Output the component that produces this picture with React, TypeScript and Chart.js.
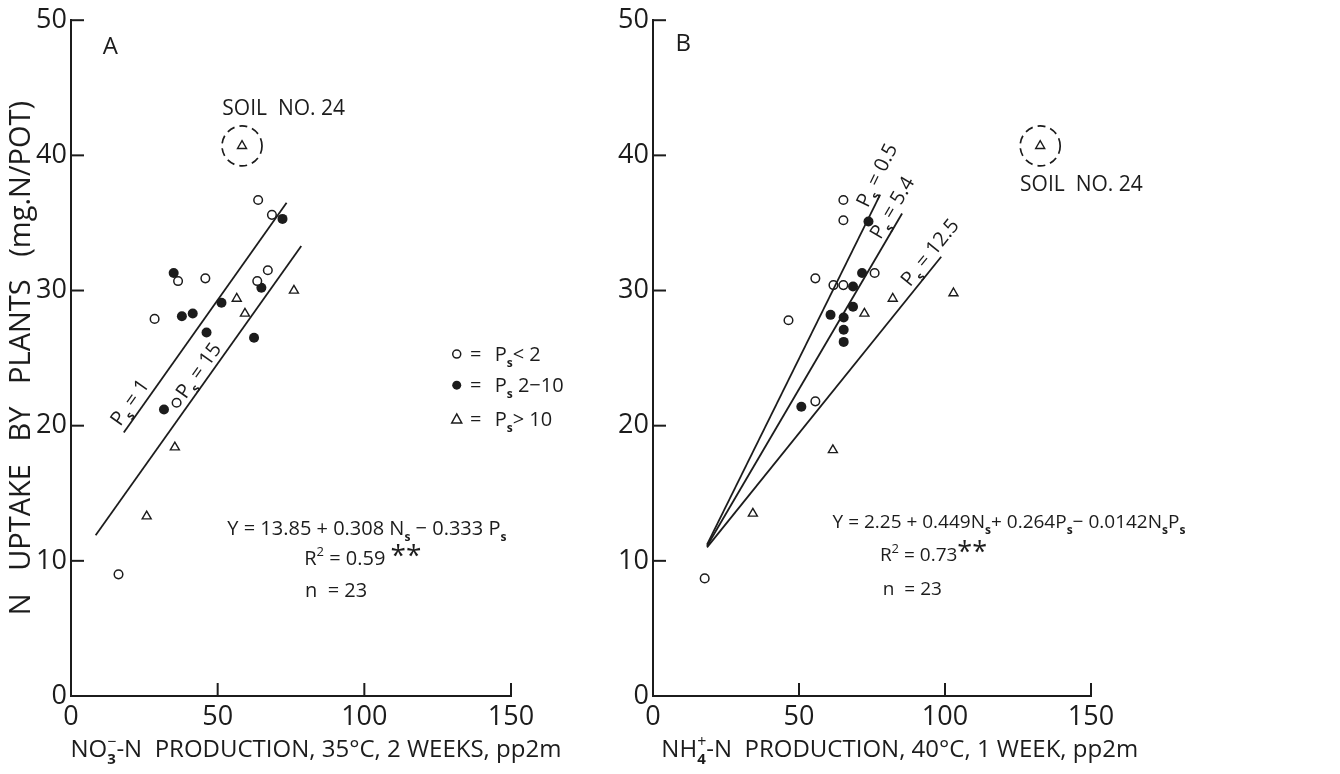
import { useEffect, useRef } from 'react';
import { Chart, registerables } from 'chart.js';

Chart.register(...registerables);

// ---------- shared axes ----------
const X_TICKS = [0, 50, 100, 150];
const Y_TICKS = [0, 10, 20, 30, 40, 50];

// ---------- Panel A : NO3-N production, 35 C, 2 weeks ----------
const A_OPEN_X = [63.8, 68.5, 36.5, 45.8, 63.5, 67.1, 28.5, 36.0, 16.2];
const A_OPEN_Y = [36.7, 35.6, 30.7, 30.9, 30.7, 31.5, 27.9, 21.7, 9.0];
const A_FILLED_X = [35.0, 72.1, 37.8, 41.5, 51.3, 64.9, 46.2, 62.4, 31.7];
const A_FILLED_Y = [31.3, 35.3, 28.1, 28.3, 29.1, 30.2, 26.9, 26.5, 21.2];
const A_TRI_X = [56.5, 59.3, 76.0, 35.4, 25.8];
const A_TRI_Y = [29.4, 28.3, 30.0, 18.4, 13.3];
const A_SOIL24_X = [58.3];
const A_SOIL24_Y = [40.7];
const A_LINE_P1_X = [18.0, 73.5];
const A_LINE_P1_Y = [19.5, 36.5];
const A_LINE_P15_X = [8.4, 78.5];
const A_LINE_P15_Y = [11.9, 33.3];

// ---------- Panel B : NH4-N production, 40 C, 1 week ----------
const B_OPEN_X = [65.2, 65.2, 55.6, 61.8, 65.2, 75.9, 46.4, 55.6, 17.7];
const B_OPEN_Y = [36.7, 35.2, 30.9, 30.4, 30.4, 31.3, 27.8, 21.8, 8.7];
const B_FILLED_X = [73.8, 71.6, 68.5, 68.5, 60.8, 65.3, 65.3, 65.3, 50.8];
const B_FILLED_Y = [35.1, 31.3, 30.3, 28.8, 28.2, 28.0, 27.1, 26.2, 21.4];
const B_TRI_X = [72.4, 82.1, 102.9, 61.6, 34.2];
const B_TRI_Y = [28.3, 29.4, 29.8, 18.2, 13.5];
const B_SOIL24_X = [132.6];
const B_SOIL24_Y = [40.7];
const B_LINE_P05_X = [18.5, 77.8];
const B_LINE_P05_Y = [11.2, 37.1];
const B_LINE_P54_X = [18.5, 85.3];
const B_LINE_P54_Y = [11.1, 35.7];
const B_LINE_P125_X = [18.5, 98.7];
const B_LINE_P125_Y = [11.0, 32.5];

// ---------- text ----------
const Y_TITLE = 'N   UPTAKE   BY   PLANTS   (mg.N/POT)';
const SOIL_LABEL = 'SOIL  NO. 24';

// ---------- style / layout ----------
const FAMILY = "'Open Sans', 'DejaVu Sans', sans-serif";
const INK = '#1c1c1c';
const W = 1340;
const H = 774;
const PLOT_TOP = 19;
const PLOT_BOTTOM = 696;
const A_CANVAS = { left: 0, width: 585, plotLeft: 71, plotRight: 511 };
const B_CANVAS = { left: 585, width: 755, plotLeft: 653, plotRight: 1091 };

type Seg = { t: string; sub?: boolean; sup?: boolean; stay?: boolean; scale?: number };

const pts = (xs: number[], ys: number[]) => xs.map((v, i) => ({ x: v, y: ys[i] }));

function segFont(s: Seg, size: number) {
  if (s.sub) return `bold ${Math.round(size * 0.62)}px ${FAMILY}`;
  if (s.sup) return `${Math.round(size * 0.66)}px ${FAMILY}`;
  return `400 ${Math.round(size * (s.scale || 1))}px ${FAMILY}`;
}

function drawRich(ctx: CanvasRenderingContext2D, segs: Seg[], x: number, base: number, size: number, align: 'left' | 'center' | 'right') {
  const widths = segs.map((s) => {
    ctx.font = segFont(s, size);
    return s.stay ? 0 : ctx.measureText(s.t).width;
  });
  const total = widths.reduce((a, b) => a + b, 0);
  let cx = align === 'left' ? x : align === 'center' ? x - total / 2 : x - total;
  ctx.textAlign = 'left';
  ctx.textBaseline = 'alphabetic';
  segs.forEach((s, i) => {
    ctx.font = segFont(s, size);
    const dy = s.sub ? size * 0.28 : s.sup ? -size * 0.42 : 0;
    ctx.fillText(s.t, cx, base + dy);
    cx += widths[i];
  });
}

const psSeg = (rest: string): Seg[] => [{ t: 'P' }, { t: 's', sub: true }, { t: rest }];

type PanelSpec = {
  key: 'A' | 'B';
  canvas: { left: number; width: number; plotLeft: number; plotRight: number };
  open: { x: number; y: number }[];
  filled: { x: number; y: number }[];
  tri: { x: number; y: number }[];
  soil: { x: number; y: number }[];
  lines: { xs: number[]; ys: number[]; label: Seg[]; at: number; off: number }[];
  letter: { x: number; y: number };
  soilText: { x: number; y: number; align: 'left' | 'center' };
  xTitle: Seg[];
  xTitleCenter: number;
  eqSize: number;
  equation: { segs: Seg[]; x: number; y: number }[];
  legend: boolean;
  yTitle: boolean;
};

const PANELS: PanelSpec[] = [
  {
    key: 'A',
    canvas: A_CANVAS,
    open: pts(A_OPEN_X, A_OPEN_Y),
    filled: pts(A_FILLED_X, A_FILLED_Y),
    tri: pts(A_TRI_X, A_TRI_Y),
    soil: pts(A_SOIL24_X, A_SOIL24_Y),
    lines: [
      { xs: A_LINE_P1_X, ys: A_LINE_P1_Y, label: psSeg(' = 1'), at: 23.5, off: 13 },
      { xs: A_LINE_P15_X, ys: A_LINE_P15_Y, label: psSeg(' = 15'), at: 46.7, off: 12 },
    ],
    letter: { x: 13.4, y: 47.5 },
    soilText: { x: 72.5, y: 43.0, align: 'center' },
    xTitle: [{ t: 'NO' }, { t: '3', sub: true, stay: true }, { t: '−', sup: true }, { t: '-N  PRODUCTION, 35°C, 2 WEEKS, pp2m' }],
    xTitleCenter: 83.5,
    eqSize: 20,
    equation: [
      { segs: [{ t: 'Y = 13.85 + 0.308 N' }, { t: 's', sub: true }, { t: ' − 0.333 P' }, { t: 's', sub: true }], x: 53.3, y: 11.9 },
      { segs: [{ t: 'R' }, { t: '2', sup: true }, { t: ' = 0.59 ' }, { t: '**', scale: 1.4 }], x: 79.5, y: 9.7 },
      { segs: [{ t: 'n  = 23' }], x: 79.8, y: 7.3 },
    ],
    legend: true,
    yTitle: true,
  },
  {
    key: 'B',
    canvas: B_CANVAS,
    open: pts(B_OPEN_X, B_OPEN_Y),
    filled: pts(B_FILLED_X, B_FILLED_Y),
    tri: pts(B_TRI_X, B_TRI_Y),
    soil: pts(B_SOIL24_X, B_SOIL24_Y),
    lines: [
      { xs: B_LINE_P05_X, ys: B_LINE_P05_Y, label: psSeg(' = 0.5'), at: 80.2, off: 12 },
      { xs: B_LINE_P54_X, ys: B_LINE_P54_Y, label: psSeg(' = 5.4'), at: 85.3, off: 12 },
      { xs: B_LINE_P125_X, ys: B_LINE_P125_Y, label: psSeg(' = 12.5'), at: 97.9, off: 12 },
    ],
    letter: { x: 10.4, y: 47.7 },
    soilText: { x: 125.7, y: 37.4, align: 'left' },
    xTitle: [{ t: 'NH' }, { t: '4', sub: true, stay: true }, { t: '+', sup: true }, { t: '-N  PRODUCTION, 40°C, 1 WEEK, pp2m' }],
    xTitleCenter: 84.5,
    eqSize: 19,
    equation: [
      {
        segs: [
          { t: 'Y = 2.25 + 0.449N' }, { t: 's', sub: true }, { t: '+ 0.264P' }, { t: 's', sub: true },
          { t: '− 0.0142N' }, { t: 's', sub: true }, { t: 'P' }, { t: 's', sub: true },
        ],
        x: 61.5, y: 12.4,
      },
      { segs: [{ t: 'R' }, { t: '2', sup: true }, { t: ' = 0.73' }, { t: '**', scale: 1.4 }], x: 77.7, y: 10.0 },
      { segs: [{ t: 'n  = 23' }], x: 78.7, y: 7.5 },
    ],
    legend: false,
    yTitle: false,
  },
];

const LEGEND_ROWS = [
  { y: 25.3, sym: 'open', text: psSeg('< 2') },
  { y: 23.0, sym: 'filled', text: psSeg(' 2−10') },
  { y: 20.5, sym: 'tri', text: psSeg('> 10') },
];
const LEGEND_SYMBOL_X = 131.5;

function annotations(p: PanelSpec) {
  return {
    id: 'annot' + p.key,
    afterDraw(chart: any) {
      const { ctx } = chart;
      const xs = chart.scales.x;
      const ys = chart.scales.y;
      const px = (v: number) => xs.getPixelForValue(v);
      const py = (v: number) => ys.getPixelForValue(v);
      ctx.save();
      ctx.fillStyle = INK;
      ctx.strokeStyle = INK;

      // inward tick marks
      ctx.lineWidth = 2;
      Y_TICKS.filter((v) => v > 0).forEach((v) => {
        ctx.beginPath();
        ctx.moveTo(xs.left, py(v));
        ctx.lineTo(xs.left + 13, py(v));
        ctx.stroke();
      });
      X_TICKS.filter((v) => v > 0).forEach((v) => {
        ctx.beginPath();
        ctx.moveTo(px(v), ys.bottom);
        ctx.lineTo(px(v), ys.bottom - 13);
        ctx.stroke();
      });

      // panel letter
      drawRich(ctx, [{ t: p.key }], px(p.letter.x), py(p.letter.y), 24, 'center');

      // dashed circle around soil no. 24
      const s = p.soil[0];
      ctx.lineWidth = 1.7;
      ctx.setLineDash([8, 5]);
      ctx.beginPath();
      ctx.arc(px(s.x), py(s.y), 20, 0, Math.PI * 2);
      ctx.stroke();
      ctx.setLineDash([]);
      drawRich(ctx, [{ t: SOIL_LABEL }], px(p.soilText.x), py(p.soilText.y), 21, p.soilText.align);

      // line labels, rotated along each regression line
      p.lines.forEach((ln) => {
        const x0 = px(ln.xs[0]);
        const y0 = py(ln.ys[0]);
        const x1 = px(ln.xs[1]);
        const y1 = py(ln.ys[1]);
        const ang = Math.atan2(y1 - y0, x1 - x0);
        const t = (ln.at - ln.xs[0]) / (ln.xs[1] - ln.xs[0]);
        const cx = x0 + t * (x1 - x0) + ln.off * Math.sin(ang);
        const cy = y0 + t * (y1 - y0) - ln.off * Math.cos(ang);
        ctx.save();
        ctx.translate(cx, cy);
        ctx.rotate(ang);
        drawRich(ctx, ln.label, 0, 7, 20, 'center');
        ctx.restore();
      });

      // equations
      p.equation.forEach((e) => drawRich(ctx, e.segs, px(e.x), py(e.y), p.eqSize, 'left'));

      // legend (panel A)
      if (p.legend) {
        LEGEND_ROWS.forEach((r) => {
          const sx = px(LEGEND_SYMBOL_X);
          const sy = py(r.y);
          ctx.lineWidth = 1.5;
          ctx.beginPath();
          if (r.sym === 'open') {
            ctx.arc(sx, sy, 4, 0, Math.PI * 2);
            ctx.stroke();
          } else if (r.sym === 'filled') {
            ctx.arc(sx, sy, 4.5, 0, Math.PI * 2);
            ctx.fill();
          } else {
            ctx.moveTo(sx, sy - 5);
            ctx.lineTo(sx + 5, sy + 4);
            ctx.lineTo(sx - 5, sy + 4);
            ctx.closePath();
            ctx.stroke();
          }
          drawRich(ctx, [{ t: '=' }], sx + 19, sy + 7, 20, 'center');
          drawRich(ctx, r.text, sx + 38, sy + 7, 20, 'left');
        });
      }

      // x axis title
      drawRich(ctx, p.xTitle, px(p.xTitleCenter), ys.bottom + 61, 24, 'center');
      ctx.restore();
    },
  };
}

function buildConfig(p: PanelSpec): any {
  const c = p.canvas;
  const lineSets = p.lines.map((ln, i) => ({
    label: 'fit ' + i,
    data: pts(ln.xs, ln.ys),
    showLine: true,
    borderColor: INK,
    borderWidth: 1.8,
    pointRadius: 0,
    fill: false,
  }));
  const tickFont = { family: FAMILY, size: 27, weight: '400' as any };
  return {
    type: 'scatter',
    data: {
      datasets: [
        ...lineSets,
        { label: 'Ps < 2', data: p.open, pointStyle: 'circle', pointRadius: 4.3, borderWidth: 1.5, borderColor: INK, backgroundColor: '#ffffff' },
        { label: 'Ps 2-10', data: p.filled, pointStyle: 'circle', pointRadius: 5, borderWidth: 0, borderColor: INK, backgroundColor: INK },
        { label: 'Ps > 10', data: p.tri, pointStyle: 'triangle', pointRadius: 5.2, borderWidth: 1.4, borderColor: INK, backgroundColor: '#ffffff' },
        { label: 'Soil No. 24', data: p.soil, pointStyle: 'triangle', pointRadius: 5.2, borderWidth: 1.4, borderColor: INK, backgroundColor: '#ffffff' },
      ],
    },
    options: {
      animation: false,
      responsive: false,
      maintainAspectRatio: false,
      devicePixelRatio: 1,
      layout: { padding: { left: 0, right: c.left + c.width - c.plotRight, top: PLOT_TOP, bottom: 0 } },
      plugins: { legend: { display: false }, tooltip: { enabled: false }, title: { display: false } },
      scales: {
        x: {
          type: 'linear',
          min: 0,
          max: 150,
          afterBuildTicks: (s: any) => { s.ticks = X_TICKS.map((v) => ({ value: v })); },
          afterFit: (s: any) => { s.height = H - PLOT_BOTTOM; },
          grid: { display: false, drawTicks: false },
          border: { display: true, color: INK, width: 2 },
          ticks: { font: tickFont, color: INK, padding: 5, maxRotation: 0, autoSkip: false },
        },
        y: {
          type: 'linear',
          min: 0,
          max: 50,
          afterBuildTicks: (s: any) => { s.ticks = Y_TICKS.map((v) => ({ value: v })); },
          afterFit: (s: any) => { s.width = c.plotLeft - c.left; },
          grid: { display: false, drawTicks: false },
          border: { display: true, color: INK, width: 2 },
          ticks: { font: tickFont, color: INK, padding: 4 },
          title: {
            display: p.yTitle,
            text: Y_TITLE,
            color: INK,
            font: { family: FAMILY, size: 29, weight: '400' as any },
            padding: { top: 4, bottom: 0 },
          },
        },
      },
    },
    plugins: [annotations(p)],
  };
}

function Panel({ spec }: { spec: PanelSpec }) {
  const ref = useRef<HTMLCanvasElement | null>(null);
  useEffect(() => {
    if (!ref.current) return;
    const chart = new Chart(ref.current, buildConfig(spec));
    return () => chart.destroy();
  }, [spec]);
  return (
    <canvas
      ref={ref}
      width={spec.canvas.width}
      height={H}
      style={{ position: 'absolute', left: spec.canvas.left, top: 0, width: spec.canvas.width, height: H }}
    />
  );
}

export default function App() {
  return (
    <div style={{ position: 'absolute', left: 0, top: 0, width: W, height: H, background: '#ffffff', overflow: 'hidden' }}>
      {PANELS.map((p) => (
        <Panel key={p.key} spec={p} />
      ))}
    </div>
  );
}
